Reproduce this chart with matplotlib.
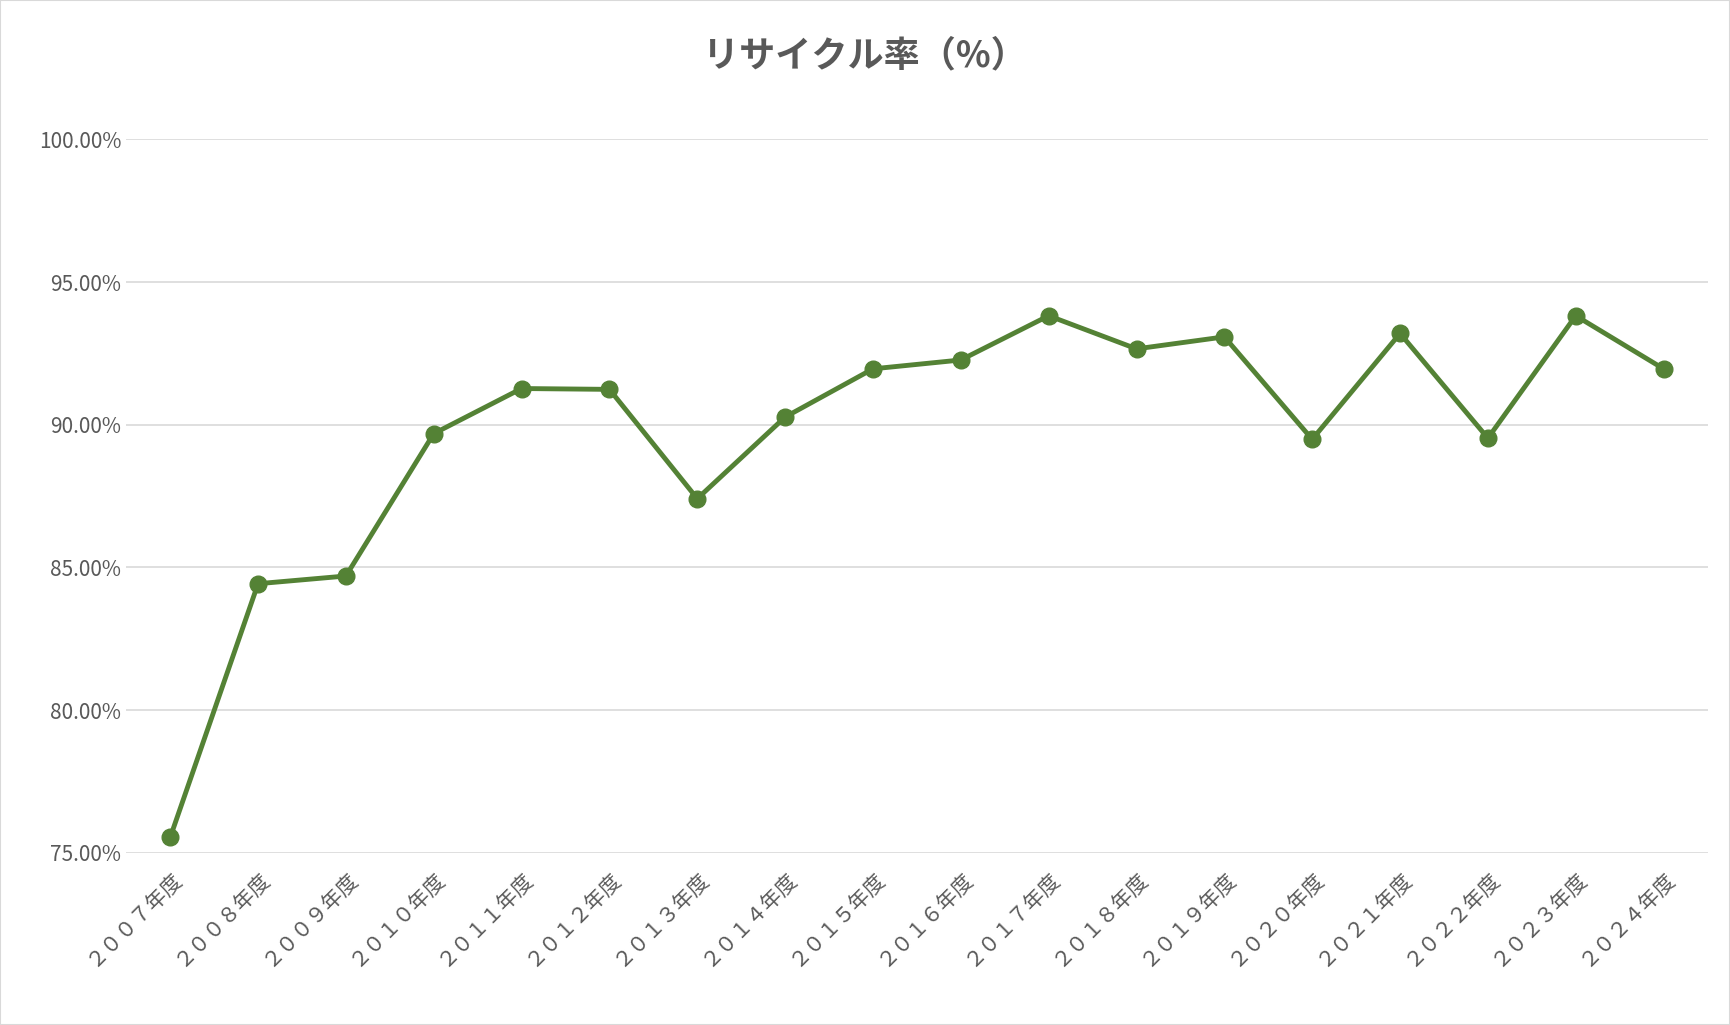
import matplotlib
matplotlib.use("Agg")
import matplotlib.pyplot as plt
from matplotlib.ticker import FuncFormatter

plt.rcParams['font.family'] = ['Noto Sans CJK JP', 'DejaVu Sans']

years = ["２００７年度","２００８年度","２００９年度","２０１０年度","２０１１年度","２０１２年度",
         "２０１３年度","２０１４年度","２０１５年度","２０１６年度","２０１７年度","２０１８年度",
         "２０１９年度","２０２０年度","２０２１年度","２０２２年度","２０２３年度","２０２４年度"]
rates = [75.54, 84.43, 84.70, 89.69, 91.27, 91.24, 87.41, 90.27, 91.96, 92.27,
         93.82, 92.66, 93.08, 89.49, 93.20, 89.53, 93.82, 91.96]

fig = plt.figure(figsize=(17.3, 10.25), dpi=100)
ax = fig.add_axes([0.073, 0.168, 0.914, 0.696])
x = list(range(len(years)))
ax.plot(x, rates, color='#548235', lw=3.5, marker='o', ms=12, zorder=3)
ax.set_xlim(-0.5, len(years) - 0.5)
ax.set_ylim(75, 100)
ax.set_yticks([75, 80, 85, 90, 95, 100])
ax.yaxis.set_major_formatter(FuncFormatter(lambda v, p: f"{v:.2f}%"))
ax.set_xticks(x)
ax.set_xticklabels(years, rotation=45, ha='right', rotation_mode='anchor')
ax.tick_params(axis='both', length=0, labelsize=15, colors='#595959')
ax.tick_params(axis='x', pad=10)
ax.grid(axis='y', color='#d9d9d9', lw=1.2)
ax.set_axisbelow(True)
for s in ax.spines.values():
    s.set_visible(False)
fig.text(0.5, 0.945, "リサイクル率（%）", ha='center', va='center', fontsize=26,
         fontweight='bold', color='#595959')
fig.patches.append(plt.Rectangle((0, 0), 1, 1, transform=fig.transFigure, fill=False,
                                 edgecolor='#d9d9d9', lw=1.5))
fig.savefig("out.png", dpi=100)
